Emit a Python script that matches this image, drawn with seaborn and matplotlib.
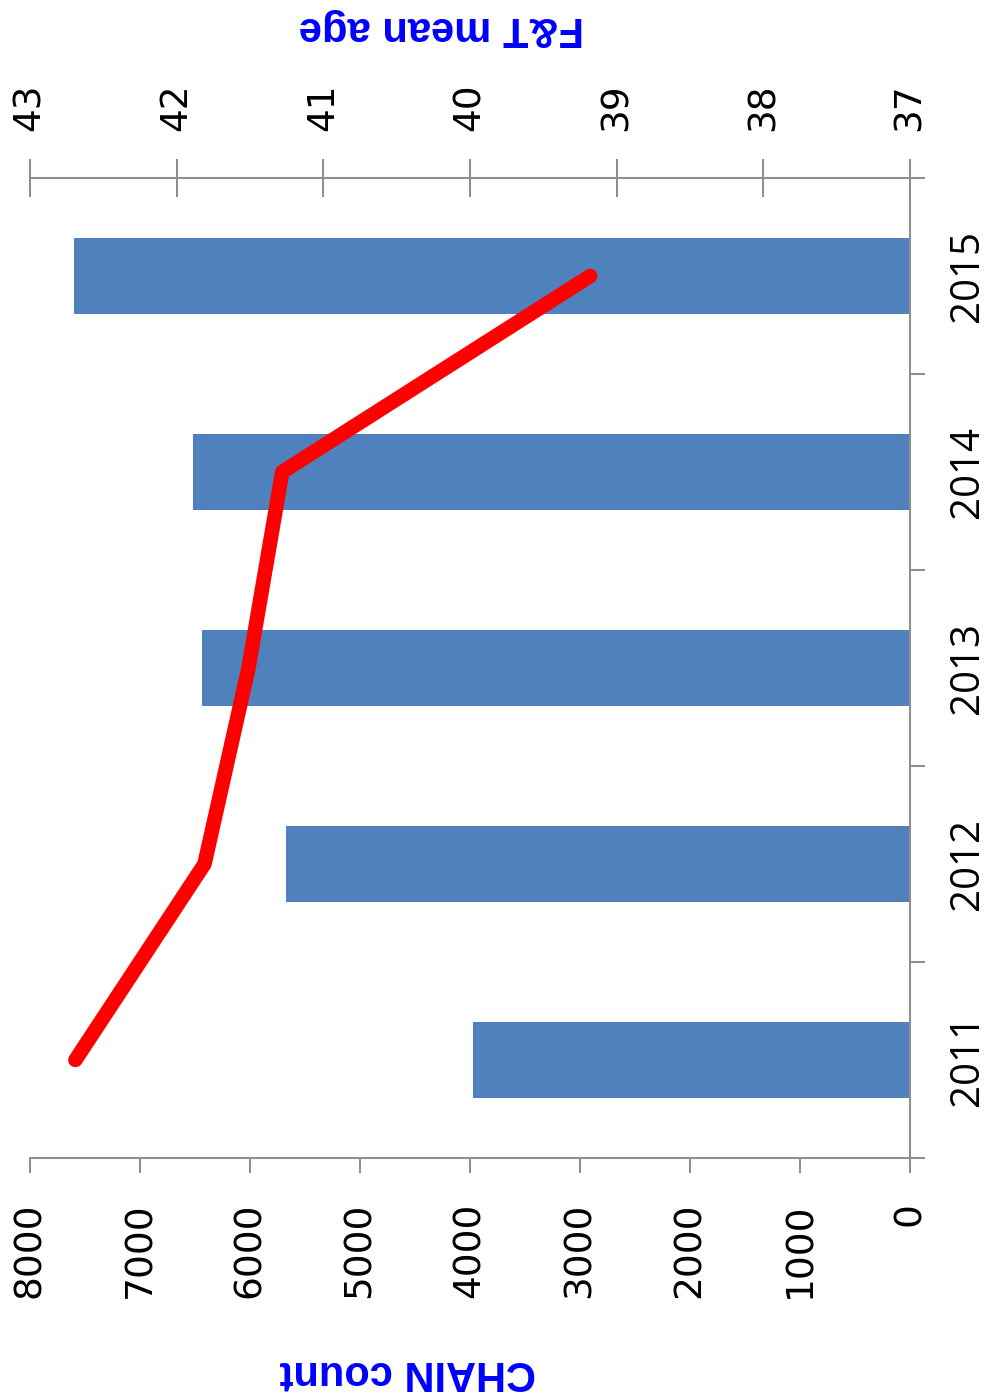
import numpy as np
import pandas as pd
import seaborn as sns
import matplotlib.pyplot as plt

years = ['2011', '2012', '2013', '2014', '2015']
chain_count = [3970, 5670, 6440, 6520, 7600]
mean_age = [42.69, 41.81, 41.51, 41.28, 39.18]
count_ticks = [0, 1000, 2000, 3000, 4000, 5000, 6000, 7000, 8000]
age_ticks = [37, 38, 39, 40, 41, 42, 43]

sns.set_theme(style='white')
plt.rcParams['font.family'] = ['DejaVu Sans']

df = pd.DataFrame({'Year': years, 'Count': chain_count, 'Age': mean_age})
order = years[::-1]  # 2015 on top, 2011 at the bottom
ypos = [order.index(y) for y in years]

axis_grey = '#8c8c8c'

fig = plt.figure(figsize=(9.92, 13.99), dpi=100)
ax = fig.add_axes([0.0302, 0.1723, 0.8871, 0.7005])

# bars: CHAIN count, drawn horizontally (chart is turned on its side)
sns.barplot(data=df, x='Count', y='Year', order=order, orient='h',
            color='#4F81BD', saturation=1, width=0.39, linewidth=0, ax=ax)
ax.set_xlim(8000, 0)
ax.set_ylim(4.5, -0.5)
ax.set_xlabel('')
ax.set_ylabel('')

ax.set_xticks(count_ticks)
ax.tick_params(axis='x', bottom=True, direction='out', length=11, width=1.4,
               color=axis_grey, labelsize=27, pad=21, labelrotation=90,
               labelcolor='black')

ax.yaxis.tick_right()
ax.set_yticks(range(len(order)))
ax.set_yticklabels(order)
ax.set_yticks(np.arange(-0.5, len(order), 1), minor=True)
ax.tick_params(axis='y', which='major', right=True, length=0, pad=27,
               labelsize=29, labelrotation=90, labelcolor='black')
ax.tick_params(axis='y', which='minor', right=True, direction='out',
               length=11, width=1.4, color=axis_grey)
for lbl in ax.get_yticklabels():
    lbl.set_family('Open Sans')
    lbl.set_va('center')

for side in ['left', 'top']:
    ax.spines[side].set_visible(False)
for side in ['bottom', 'right']:
    ax.spines[side].set_color(axis_grey)
    ax.spines[side].set_linewidth(1.4)

# line: F&T mean age on the secondary axis
ax2 = ax.twiny()
sns.lineplot(x=mean_age, y=ypos, sort=False, estimator=None, color='#FF0000',
             linewidth=10.5, solid_capstyle='round', ax=ax2)
ax2.set_xlim(43, 37)
ax2.set_ylim(4.5, -0.5)
ax2.set_xticks(age_ticks)
ax2.tick_params(axis='x', top=True, direction='inout', length=28, width=1.4,
                color=axis_grey, labelsize=27, pad=20, labelrotation=90,
                labelcolor='black')
ax2.set_xlabel('')
ax2.set_ylabel('')
for side in ['left', 'right', 'bottom']:
    ax2.spines[side].set_visible(False)
ax2.spines['top'].set_color(axis_grey)
ax2.spines['top'].set_linewidth(1.4)

# axis titles (upside down, as in the reference)
fig.text(408 / 992, 1 - 1372 / 1399, 'CHAIN count', rotation=180,
         color='#0000FF', fontsize=30, fontweight='bold',
         family='Liberation Sans', ha='center', va='center')
fig.text(441 / 992, 1 - 28 / 1399, 'F&T mean age', rotation=180,
         color='#0000FF', fontsize=30, fontweight='bold',
         family='Liberation Sans', ha='center', va='center')

fig.savefig('out.png', dpi=100)
